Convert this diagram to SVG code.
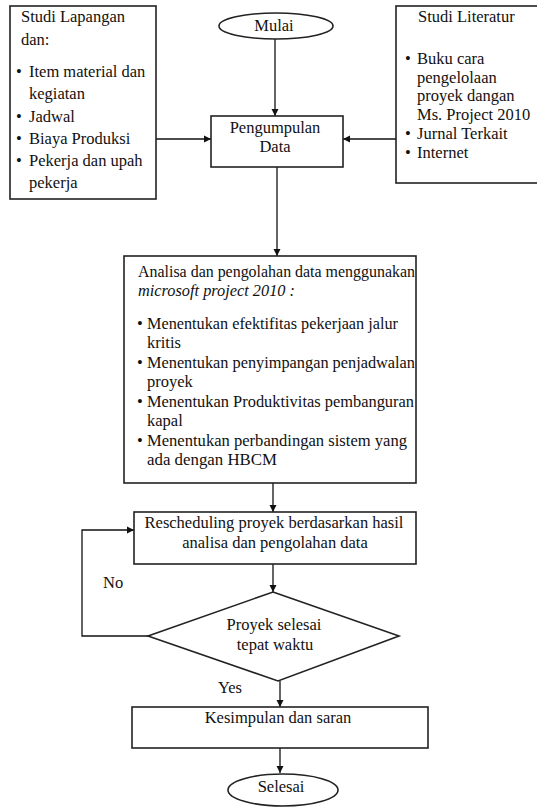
<svg xmlns="http://www.w3.org/2000/svg" width="537" height="807" viewBox="0 0 537 807">
<defs>
<marker id="ah" markerWidth="8" markerHeight="8" refX="7" refY="4" orient="auto" markerUnits="userSpaceOnUse">
<path d="M0,0.5 L7,4 L0,7.5 Z" fill="#111"/>
</marker>
<style>
.box{fill:#fff;stroke:#222;stroke-width:1.6}
.ln{fill:none;stroke:#111;stroke-width:1.3}
text{font-size:16.5px;fill:#111}
.c{text-anchor:middle}
.i{font-style:italic}
</style>
</defs>
<rect width="537" height="807" fill="#fff"/>
<g font-family="Liberation Serif, DejaVu Serif, serif">
<g id="connectors">
<line class="ln" x1="275" y1="39" x2="275" y2="116" marker-end="url(#ah)"/>
<line class="ln" x1="156" y1="139" x2="211" y2="139" marker-end="url(#ah)"/>
<line class="ln" x1="396" y1="139" x2="343" y2="139" marker-end="url(#ah)"/>
<line class="ln" x1="277" y1="167" x2="277" y2="256" marker-end="url(#ah)"/>
<line class="ln" x1="273" y1="483" x2="273" y2="512" marker-end="url(#ah)"/>
<line class="ln" x1="273" y1="564" x2="273" y2="592" marker-end="url(#ah)"/>
<polyline class="ln" points="148,636 82,636 82,530 134,530" marker-end="url(#ah)"/>
<line class="ln" x1="280" y1="681" x2="280" y2="707" marker-end="url(#ah)"/>
<line class="ln" x1="280" y1="748" x2="280" y2="773" marker-end="url(#ah)"/>
<text x="103" y="588">No</text>
<text x="218" y="693">Yes</text>
</g>
<g id="studi-lapangan">
<rect class="box" x="10" y="6" width="146" height="193"/>
<text x="21" y="22">Studi Lapangan</text>
<text x="21" y="45">dan:</text>
<text x="16" y="77">•</text><text x="29" y="77">Item material dan</text>
<text x="29" y="99">kegiatan</text>
<text x="16" y="122">•</text><text x="29" y="122">Jadwal</text>
<text x="16" y="144">•</text><text x="29" y="144">Biaya Produksi</text>
<text x="16" y="166">•</text><text x="29" y="166">Pekerja dan upah</text>
<text x="29" y="188">pekerja</text>
</g>
<g id="mulai">
<ellipse class="box" cx="276" cy="26" rx="57" ry="13"/>
<text class="c" x="274" y="31">Mulai</text>
</g>
<g id="studi-literatur">
<rect class="box" x="396" y="6" width="150" height="177"/>
<text x="418" y="22">Studi Literatur</text>
<text x="405" y="64">•</text><text x="417" y="64">Buku cara</text>
<text x="417" y="83">pengelolaan</text>
<text x="417" y="101">proyek  dangan</text>
<text x="417" y="120">Ms. Project 2010</text>
<text x="405" y="139">•</text><text x="417" y="139">Jurnal Terkait</text>
<text x="405" y="158">•</text><text x="417" y="158">Internet</text>
</g>
<g id="pengumpulan">
<rect class="box" x="211" y="116" width="132" height="51"/>
<text class="c" x="275" y="133">Pengumpulan</text>
<text class="c" x="275" y="152">Data</text>
</g>
<g id="analisa">
<rect class="box" x="124" y="256" width="292" height="227"/>
<text x="138" y="277" textLength="277" lengthAdjust="spacingAndGlyphs">Analisa dan pengolahan data menggunakan</text>
<text class="i" x="138" y="296" textLength="157" lengthAdjust="spacingAndGlyphs">microsoft project 2010 :</text>
<text x="137" y="329">•</text><text x="147" y="329" textLength="251" lengthAdjust="spacingAndGlyphs">Menentukan efektifitas pekerjaan jalur</text>
<text x="147" y="348">kritis</text>
<text x="137" y="368">•</text><text x="147" y="368" textLength="268" lengthAdjust="spacingAndGlyphs">Menentukan penyimpangan  penjadwalan</text>
<text x="147" y="387">proyek</text>
<text x="137" y="407">•</text><text x="147" y="407" textLength="267" lengthAdjust="spacingAndGlyphs">Menentukan Produktivitas pembanguran</text>
<text x="147" y="426">kapal</text>
<text x="137" y="446">•</text><text x="147" y="446" textLength="260" lengthAdjust="spacingAndGlyphs">Menentukan perbandingan  sistem yang</text>
<text x="147" y="465" textLength="130" lengthAdjust="spacingAndGlyphs">ada dengan  HBCM</text>
</g>
<g id="rescheduling">
<rect class="box" x="134" y="512" width="282" height="52"/>
<text class="c" x="274" y="528">Rescheduling proyek berdasarkan hasil</text>
<text class="c" x="275" y="548">analisa dan pengolahan data</text>
</g>
<g id="keputusan">
<polygon class="box" points="273,592 399,636 278,681 148,636"/>
<text class="c" x="274" y="630">Proyek selesai</text>
<text class="c" x="275" y="650">tepat waktu</text>
</g>
<g id="kesimpulan">
<rect class="box" x="132" y="707" width="296" height="41"/>
<text class="c" x="278" y="723">Kesimpulan dan saran</text>
</g>
<g id="selesai">
<ellipse class="box" cx="283" cy="790" rx="55" ry="16"/>
<text class="c" x="281" y="792">Selesai</text>
</g>
</g>
</svg>
